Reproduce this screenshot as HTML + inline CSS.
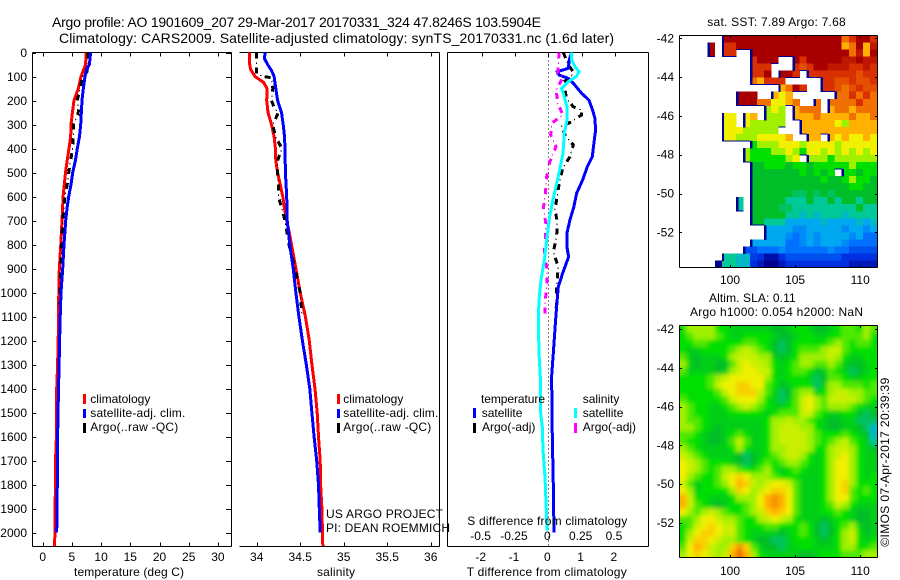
<!DOCTYPE html>
<html>
<head>
<meta charset="utf-8">
<title>Argo profile</title>
<style>
html,body{margin:0;padding:0;background:#fff;}
svg{display:block;}
text{font-family:"Liberation Sans",sans-serif;font-size:12px;fill:#000;}
.t14{font-size:14px;}
.axis{stroke:#000;stroke-width:1;shape-rendering:crispEdges;fill:none;}
.swatch{shape-rendering:crispEdges;}
</style>
</head>
<body>
<svg id="chart" width="900" height="580" viewBox="0 0 900 580" xmlns="http://www.w3.org/2000/svg">
<defs>
<clipPath id="clip-t"><rect x="32" y="52" width="199" height="494"/></clipPath>
<clipPath id="clip-s"><rect x="239" y="52" width="200" height="494"/></clipPath>
<clipPath id="clip-d"><rect x="447" y="52" width="201" height="494"/></clipPath>
<clipPath id="clip-m1"><rect x="679" y="35" width="198" height="232"/></clipPath>
<clipPath id="clip-m2"><rect x="679" y="325" width="198" height="232"/></clipPath>
<filter id="smooth" filterUnits="userSpaceOnUse" x="650" y="300" width="250" height="280"><feGaussianBlur stdDeviation="2.1"/></filter>
</defs>

<text class="t14" x="52" y="27" textLength="489">Argo profile: AO 1901609_207 29-Mar-2017 20170331_324 47.8246S 103.5904E</text>
<text class="t14" x="59" y="43" textLength="555">Climatology: CARS2009. Satellite-adjusted climatology: synTS_20170331.nc (1.6d later)</text>

<g id="g-heat1" clip-path="url(#clip-m1)"></g>
<g clip-path="url(#clip-m2)"><g id="g-heat2" filter="url(#smooth)"></g></g>
<g id="g-axes"></g>
<g id="g-lines-t" clip-path="url(#clip-t)"></g>
<g id="g-lines-s" clip-path="url(#clip-s)"></g>
<g id="g-lines-d" clip-path="url(#clip-d)"></g>

<g>
<rect class="swatch" x="83" y="394" width="3" height="10" fill="#f00"/>
<text x="90.3" y="403">climatology</text>
<rect class="swatch" x="83" y="409" width="3" height="9" fill="#00f"/>
<text x="90.3" y="417" textLength="95">satellite-adj. clim.</text>
<rect class="swatch" x="83" y="423" width="3" height="10" fill="#000"/>
<text x="90.3" y="431" textLength="88">Argo(..raw -QC)</text>
</g>
<g>
<rect class="swatch" x="337" y="394" width="3" height="10" fill="#f00"/>
<text x="343.3" y="403">climatology</text>
<rect class="swatch" x="337" y="409" width="3" height="9" fill="#00f"/>
<text x="343.3" y="417" textLength="95">satellite-adj. clim.</text>
<rect class="swatch" x="337" y="423" width="3" height="10" fill="#000"/>
<text x="343.3" y="431" textLength="88">Argo(..raw -QC)</text>
</g>
<g>
<text x="481" y="403" textLength="64">temperature</text>
<rect class="swatch" x="473" y="408" width="3" height="10" fill="#00f"/>
<text x="481.7" y="417">satellite</text>
<rect class="swatch" x="473" y="423" width="3" height="10" fill="#000"/>
<text x="482" y="431">Argo(-adj)</text>
<text x="582.7" y="403">salinity</text>
<rect class="swatch" x="574" y="408" width="3" height="10" fill="#0ff"/>
<text x="582.7" y="417">satellite</text>
<rect class="swatch" x="574" y="423" width="3" height="10" fill="#f0f"/>
<text x="582.7" y="431">Argo(-adj)</text>
</g>

<text x="326" y="518" textLength="117">US ARGO PROJECT</text>
<text x="326" y="532" textLength="124">PI: DEAN ROEMMICH</text>
<text x="467.3" y="525" textLength="160">S difference from climatology</text>
<text x="466.7" y="576" textLength="160">T difference from climatology</text>
<text x="74" y="576" textLength="110">temperature (deg C)</text>
<text x="317" y="576" textLength="38">salinity</text>
<text x="707.3" y="26" textLength="138.4">sat. SST: 7.89 Argo: 7.68</text>
<text x="709" y="302" textLength="86.7">Altim. SLA: 0.11</text>
<text x="690" y="316" textLength="173">Argo h1000: 0.054 h2000: NaN</text>
<text transform="translate(889,546.7) rotate(-90)" x="0" y="0" textLength="169">©IMOS 07-Apr-2017 20:39:39</text>
</svg>

<script>
// ---------- profile data ----------
const tClimDepth = [0,50,100,150,200,250,300,350,400,450,500,550,600,700,800,900,1000,1100,1200,1300,1400,1500,1600,1700,1800,1900,2055];
const tClimValue = [7.4,7.36,6.56,6.1,5.36,5.08,4.85,4.8,4.5,4.2,3.9,3.7,3.5,3.3,3.1,2.85,2.75,2.7,2.65,2.55,2.4,2.4,2.35,2.2,2.2,2.1,2.05];
const tSatDepth = [0,50,70,100,150,200,300,350,400,450,500,550,600,650,700,800,900,1000,1100,1200,1300,1400,1600,1800,2000];
const tSatValue = [8.2,8.0,7.5,7.25,6.95,6.73,6.5,6.3,5.93,5.6,5.13,4.85,4.45,4.16,3.94,3.65,3.42,3.14,3.0,2.9,2.8,2.7,2.55,2.5,2.4];
const tArgoDepth = [0,50,90,100,150,200,230,260,300,350,400,450,500,550,600,650,700,800,900,1000,1050];
const tArgoValue = [7.75,7.75,7.5,6.8,6.4,5.9,6.15,6.05,5.25,5.25,5.1,4.8,4.45,4.2,3.8,3.65,3.4,3.25,3.1,2.95,2.9];

const sClimDepth = [0,50,70,100,125,150,200,250,300,350,400,450,500,550,600,650,700,750,800,900,1000,1100,1200,1300,1400,1500,1600,1700,1800,1900,2055];
const sClimValue = [33.92,33.92,33.93,33.98,34.08,34.12,34.115,34.13,34.17,34.2,34.215,34.22,34.24,34.27,34.3,34.32,34.345,34.375,34.4,34.45,34.5,34.56,34.605,34.635,34.67,34.695,34.71,34.73,34.735,34.75,34.76];
const sSatDepth = [0,25,50,75,100,150,200,250,300,350,400,500,600,700,800,900,1000,1100,1200,1300,1400,1500,1600,1700,1800,1900,2000];
const sSatValue = [34.095,34.09,34.125,34.17,34.2,34.22,34.24,34.285,34.305,34.32,34.325,34.33,34.345,34.35,34.38,34.42,34.45,34.485,34.525,34.57,34.61,34.635,34.66,34.69,34.71,34.72,34.73];
const sArgoDepth = [0,50,90,100,105,150,200,230,250,300,350,400,450,500,550,600,650,700,800,900,1000,1090];
const sArgoValue = [34,34,34,34.08,34.17,34.185,34.17,34.2,34.25,34.185,34.215,34.29,34.24,34.24,34.25,34.25,34.29,34.325,34.37,34.44,34.5,34.52];

const dtSatDepth = [0,31,66,80,94,108,128,170,198,240,274,323,378,434,476,531,587,642,698,753,809,851,920,976,1059,1115,1253,1350,1600,1800,2000];
const dtSatValue = [0.7,0.63,0.6,0.27,0.33,0.6,0.75,1.0,1.22,1.33,1.4,1.42,1.37,1.32,1.17,1.03,0.85,0.77,0.65,0.56,0.56,0.61,0.43,0.3,0.25,0.22,0.15,0.1,0.12,0.15,0.17];
const dsSatDepth = [0,31,59,80,100,121,149,184,226,281,337,420,503,600,684,781,865,948,1031,1115,1253,1350,1490,1560,1657,1768,1865,1990];
const dsSatValue = [0.175,0.175,0.2,0.23,0.21,0.15,0.1,0.12,0.14,0.14,0.12,0.11,0.08,0.04,0.01,-0.012,-0.03,-0.055,-0.07,-0.075,-0.07,-0.06,-0.06,-0.045,-0.04,-0.025,-0.018,-0.008];
const dtArgoDepth = [0,52,80,98,122,156,191,226,240,260,292,306,351,385,434,483,545,594,656,705,767,830,892,976,1045,1087];
const dtArgoValue = [0.45,0.6,0.75,0.7,0.47,0.5,0.55,0.75,1.0,1.0,0.65,0.4,0.53,0.75,0.65,0.43,0.33,0.27,0.2,0.27,0.25,0.15,0.3,0.25,0.25,0.22];
const dsArgoDepth = [0,59,87,103,156,212,260,295,344,392,455,517,587,649,712,781,837,906,976,1045,1094];
const dsArgoValue = [0.08,0.075,0.07,0.11,0.06,0.07,0.11,0.025,0.018,0.058,0.012,-0.012,-0.022,-0.037,-0.018,-0.022,-0.03,-0.008,-0.012,-0.025,-0.025];

// ---------- tick labels ----------
const depthTicks = [0,100,200,300,400,500,600,700,800,900,1000,1100,1200,1300,1400,1500,1600,1700,1800,1900,2000];
const tempTicks = [0,5,10,15,20,25,30];
const salTicks = [34,34.5,35,35.5,36];
const salTickLabels = ['34','34.5','35','35.5','36'];
const dtTicks = [-2,-1,0,1,2];
const dsTicks = [-0.5,-0.25,0,0.25,0.5];
const lonTicks = [100,105,110];
const latTicks = [-42,-44,-46,-48,-50,-52];

// ---------- heat map data (colour level per cell; _ = no data) ----------
const _ = null;
const sstRows = [
[_,_,_,_,_,_,12,12,12,12,12,12,12,12,12,12,12,12,12,12,12,12,12,10,11,12,12,11],
[_,_,_,_,12,_,11,11,12,12,12,12,12,12,12,12,12,12,12,12,12,12,12,9,10,12,9,11.5],
[_,_,_,_,12,_,11,11,_,_,12,12,12,12,12,12,12,12,12,12,12,12,12,12,10,11.5,9,12],
[_,_,_,_,_,_,_,_,_,_,11,12,12,12,_,_,12,11,12,12,12,12,12,11.5,11.5,12,11.5,11.5],
[_,_,_,_,_,_,_,_,_,_,11,11,11,_,_,_,11,10.5,11,12,12,11.5,11.5,11.5,11,11,11.5,11],
[_,_,_,_,_,_,_,_,_,_,11,11,12,_,12,12,11,_,11,11,11,11,11,11,11,10.5,11,11],
[_,_,_,_,_,_,_,_,_,_,10,9,11,11,11,_,_,_,_,_,11,11,10.5,10.5,11,10.5,10.5,11],
[_,_,_,_,_,_,_,_,_,_,_,_,_,_,9,10,12,11,_,_,11,11,10.5,10,10.5,11,10.5,10.5],
[_,_,_,_,_,_,_,_,12,12,12,_,_,9,8,9,_,_,_,_,_,_,10,10,11,10,11,10],
[_,_,_,_,_,_,_,_,12,12,12,10,10,8,8,9,10,_,_,10,_,10,10,10,10,11,10,10],
[_,_,_,_,_,_,_,_,_,_,_,_,7,8,7,_,9,10,10,10,_,9,10,10,9,10,10,10],
[_,_,_,_,_,_,8,8,_,8,9,_,7,7,7,_,9,9,9,10,9,9,9,9,10,9,9,10],
[_,_,_,_,_,_,8,8,_,8,7,7,7,7,7,_,_,9,9,9,9,9,8,7,9,9,9,9],
[_,_,_,_,_,_,8,8,8,7,7,7,7,7,_,_,_,9,9,9,9,9,9,9,9,9,9,9],
[_,_,_,_,_,_,8,8,7,7,7,8,8,8,8,9,_,_,9,9,_,9,8,9,8,8,9,8],
[_,_,_,_,_,_,_,_,_,_,6,7,7,7,8,8,8,7,8,8,8,8,7,8,8,8,8,8],
[_,_,_,_,_,_,_,_,_,7,6,6,6,7,7,8,7,6,8,8,7,8,7,8,7,8,7,8],
[_,_,_,_,_,_,_,_,_,7,6,6,6,6,6,7,8,_,7,7,7,6,7,7,7,7,7,7],
[_,_,_,_,_,_,_,_,_,_,5,5,6,6,6,5,6,6,5,6,6,6,6,6,7,6,6,6],
[_,_,_,_,_,_,_,_,_,_,5,5,5,5,5,5,5,6,5,6,5,6,_,6,6,5,6,6],
[_,_,_,_,_,_,_,_,_,_,5,5,5,5,5,5,5,5,5,5,6,5,5,6,7,6,6,5],
[_,_,_,_,_,_,_,_,_,_,5,5,5,5,5,5,5,5,5,5,5,5,5,5,6,6,5,5],
[_,_,_,_,_,_,_,_,_,_,5,5,5,5,5,5,4.5,4.5,5,4.5,5,4.5,5,5,5,5,5,5],
[_,_,_,_,_,_,_,_,4,_,5,5,5,5,5,4,4,4,5,4,4,5,4,5,5,4,5,5],
[_,_,_,_,_,_,_,_,4,_,5,5,5,5,4.5,4.5,4,4,4,4,4,4,4,4,4,5,4,4],
[_,_,_,_,_,_,_,_,_,_,5,5,5,5,5,4,4,3.5,4,3.5,4,4,4,3.5,4,4,4,4],
[_,_,_,_,_,_,_,_,_,_,5,5,4,4,4,3,3,3,3,3,3.5,3,3,3,3,3.5,3,3.5],
[_,_,_,_,_,_,_,_,_,_,_,_,3,3,3,3,2.5,2.5,3,3,3,3,3,2.5,3,3,2.5,3],
[_,_,_,_,_,_,_,_,_,_,_,_,3,3,3,2.5,2,2.5,3,2.5,3,3,3,3,2.5,3,2,2],
[_,_,_,_,_,_,_,_,_,_,3,3,3,3,3,2,2,2.5,3,2.5,3,3,3,2.5,2,2,2,2],
[_,_,_,_,_,_,_,_,_,1.5,1.5,2,2,2,2.5,2,2,2,2,2,2,2.5,2,2,1.5,1.5,1.5,1.5],
[_,_,_,_,_,_,4,4,3.5,3.5,1.2,1,0.3,0.3,1,1.5,1.5,1.5,1.5,1.5,1.5,1.5,1.5,1,1,1,1,1],
[_,_,_,_,_,0,4,4,3.5,3.5,1,0.5,0,0,0.5,1,1,1,1,1,1,1,1,1,0.5,0.5,0.5,0.5]
];
const slaRows = [
[6,7,7,7,7,6,6,5.5,5.5,5.5,5.5,5.5,5.5,5,5,5.5,6,6,5.5,5,5,5.5,6,6.5,6.5,6,7,6.5],
[6,6.5,7,7,7,6.5,6,5.5,5.5,6,6,6,6,5.5,5,5,5.5,6,6,5.5,5.5,6,6,6.5,6.5,6.5,7,6],
[6,6,6.5,6.5,6,6,6,6,6,6.5,6.5,6,6,5,4.5,5,6,6,6,6,6,6.5,7,6.5,6,6.5,6.5,6],
[6,5.5,5.5,6,6,6,6,6.5,7,7.5,7,6.5,6,5,4.5,5,6,6.5,6.5,6.5,7,7.5,7.5,6.5,6,6,6,6],
[6.5,5.5,5,5.5,5.5,5.5,6,7,7.5,7.5,7.5,7,7,5.5,5,5.5,6,7,7,7,7,7.5,7,6,5.5,5.5,6,6],
[7,5.5,5,5.5,5.5,5,5,6.5,7.5,8,7.5,7.5,7,6,5.5,6,6.5,7,7,6.5,6.5,7,6.5,5.5,5,5,5.5,6],
[6.5,5.5,5.5,5.5,5.5,5,5.5,7,7.5,8,8,7.5,7.5,6,5.5,6,6.5,6.5,6,5,5.5,6.5,6,5.5,4.5,5,5.5,6],
[6,6,6,6,6.5,7,7.5,8,8,8,8,8,7,6,5.5,6,6,6,5.5,4.5,5,6.5,6.5,6,5.5,5.5,6,6],
[6,6,6,6,6.5,7.5,8,8,8.5,8.5,8,8,6.5,6,5,5.5,6,6,6,4.5,5.5,7,7,6.5,6.5,6.5,6,6.5],
[6,6,6,6,6,6.5,7.5,8,8.5,8.5,8.5,7.5,6.5,5.5,4.5,5,6.5,7,7,5.5,6,7,7.5,7.5,7,7,6.5,6.5],
[6.5,6,6,6,6,6,6.5,7.5,8,8,8,7,6,5.5,4.5,5.5,6.5,7.5,8,7,6.5,7.5,7.5,7.5,7.5,7,6.5,6],
[7,6.5,6,6,5.5,5.5,6,6.5,7,7.5,7,6.5,6,5.5,5.5,6,6.5,7.5,8,7,6.5,7,7,7,6.5,6,5.5,5.5],
[7,6.5,6,6,5.5,5.5,5.5,6,6,6,6,6,5.5,6,6.5,6.5,6.5,7.5,7.5,6.5,6,5.5,5.5,6,6,5,4.5,5],
[7,6.5,6.5,6,5.5,5.5,5.5,5.5,5.5,5.5,5.5,5.5,6,7,7,7.5,7,7,6.5,6,5.5,5,5,5.5,5.5,4.5,4.5,4.5],
[7,7,6.5,6,5.5,5,5.5,5.5,5.5,5.5,5.5,5.5,6,7,7.5,7.5,7.5,7,7,6,5.5,5,5,5.5,5.5,5,4.5,3.5],
[6.5,6.5,6,5.5,5,5,5.5,6,6.5,6,5.5,5.5,6,7,7.5,7.5,7.5,7.5,7,6.5,6,6,6,6.5,6,5.5,5,3.5],
[6.5,6,6,5.5,5,5,5.5,6.5,7.5,6.5,5.5,5.5,6,7,7.5,7.5,7.5,7.5,7,6.5,6,6.5,7,7.5,6.5,6,5.5,4],
[7,6.5,6,5.5,5.5,5.5,5.5,6,7,6,5.5,5.5,6,7,7,7.5,7.5,7.5,7,6,6,7,7.5,7.5,7,6,5.5,5],
[7.5,7,6.5,6,5.5,5.5,5.5,5.5,5,4.5,5,5.5,6,6.5,7,7.5,7.5,7,6,5.5,6,7,7.5,8,7,6,5.5,5.5],
[8,7.5,7,6.5,6,6,6,5.5,5,4.5,5,6,6.5,6,6.5,7,7,6.5,6,5.5,6,7,8,8,7,6,5.5,5.5],
[8,7.5,7,6.5,6,6.5,7,7,6.5,6,6,6.5,7,6,5.5,6,6.5,6,5.5,5.5,6,7,8,8,7,6,5.5,5.5],
[8,7,6.5,6,6,6.5,7.5,8,8.5,8,7,7,7,6.5,6,6,6,5.5,5.5,5.5,6,7,8,8,7,6,5.5,6],
[7.5,6.5,5.5,6,6,6.5,7,8,9,8.5,7.5,7,7.5,8,8,7.5,6.5,5.5,5.5,5.5,6,7,8,8.5,7,6,6,6],
[8,7,5.5,6,6,6,6,7,8.5,8,7,7.5,8,8.5,8.5,8,6.5,5.5,5.5,5.5,6,7,8,8.5,6.5,6,6.5,6],
[9,7.5,6,6,5.5,5.5,5.5,6,7,7,7,8,9,9.5,9,8,6.5,5.5,5.5,5.5,6,7,8,8,6.5,6,6,6],
[9,7.5,6.5,6,5.5,5,5.5,6,6,6.5,7,8,9,9.5,9,8,6.5,5.5,5.5,5.5,6,6.5,7.5,7,6,5.5,5.5,5.5],
[8,7,6.5,7,7.5,7,6.5,6,6,6.5,7,7.5,8.5,9,8.5,8,6.5,5.5,5.5,5.5,6,6,6.5,6,5.5,5,5,5.5],
[6.5,6.5,7,8,8,7.5,7,7,6.5,6,6,7,7.5,8,7.5,7,6,5.5,5.5,5.5,5,5.5,6,6,5.5,5,5,5.5],
[6,6.5,7.5,8,8.5,8,7.5,7.5,6.5,6,6,6,6.5,6.5,6,6,6,6.5,6,5,4.5,5,6,6.5,7,5.5,5,5.5],
[6,7,8,8.5,8.5,8,7.5,7.5,6.5,6,5.5,5.5,5.5,5.5,5,5.5,6,6.5,6,5,4.5,5,6,7,7.5,6,5,5.5],
[6,7.5,8.5,8.5,8,7.5,7,7,6.5,6,5.5,5,5,4.5,4.5,5.5,6,6,6,5.5,5,5.5,6,7,7.5,6,5.5,6],
[6.5,8,9,8.5,7.5,7,7,8.5,9.5,8.5,6.5,5.5,5,5,4.5,5.5,5.5,6,6,5.5,5.5,5.5,6,7,7,6,6,6.5],
[7,8,8.5,8,7.5,7,7.5,9,10,9,7,6,5.5,5.5,5.5,5.5,5.5,5,5,5.5,6,6,6,6.5,6.5,6.5,7,7]
];
const colorStops = [[0,0,144],[0,48,224],[0,112,255],[0,168,240],[0,200,150],[0,190,40],[0,224,0],[160,240,0],[240,240,0],[255,176,0],[240,112,0],[216,48,0],[168,0,0]];

// ---------- scales ----------
const yDepth = d => 52.5 + 0.2401 * d;
const xTemp = v => 42.7 + 5.84 * v;
const xSal = v => 256.7 + 87 * (v - 34);
const xDT = v => 548.3 + 33.3 * v;
const xDS = v => 548.3 + 133.3 * v;
const xLon1 = l => 730 + 13.02 * (l - 100);
const yLat1 = l => 38.3 + 19.4 * (-42 - l);
const yLat2 = l => 329 + 19.4 * (-42 - l);

const NS = 'http://www.w3.org/2000/svg';
function mk(parent, tag, attrs, txt) {
  const e = document.createElementNS(NS, tag);
  for (const k in attrs) e.setAttribute(k, attrs[k]);
  if (txt !== undefined) e.textContent = txt;
  parent.appendChild(e);
  return e;
}
const axes = document.getElementById('g-axes');

function seg(x1, y1, x2, y2, name) {
  const el = mk(axes, 'line', {x1: x1, y1: y1, x2: x2, y2: y2, class: 'axis'});
  
  
}
function label(x, y, s, anchor, name) {
  const el = mk(axes, 'text', {x: x, y: y, 'text-anchor': anchor}, s);
  
  
}
function profile(group, depths, values, xf, color, dashed, name) {
  const pts = depths.map((d, i) => xf(values[i]).toFixed(1) + ',' + yDepth(d).toFixed(1)).join(' ');
  const a = {points: pts, fill: 'none', stroke: color, 'stroke-width': 3, 'shape-rendering': 'crispEdges'};
  if (dashed) a['stroke-dasharray'] = '6 9';
  const el = mk(group, 'polyline', a);
  
  
  if (dashed) {
    const dots = mk(group, 'polyline', {points: pts, fill: 'none', stroke: color, 'stroke-width': 1, 'stroke-dasharray': '1.5 13.5', 'stroke-dashoffset': -10, 'shape-rendering': 'crispEdges'});
    
    
  }
}

// ---------- panel frames ----------
const T = 52.5, B = 546.5;
seg(32.5, T, 231.5, T, 'temperature-panel-top');
seg(32.5, B, 231.5, B, 'temperature-panel-bottom');
seg(32.5, T, 32.5, B, 'temperature-panel-left');
seg(231.5, T, 231.5, B, 'temperature-panel-right');
seg(239.5, T, 439.5, T, 'salinity-panel-top');
seg(239.5, B, 439.5, B, 'salinity-panel-bottom');
seg(439.5, T, 439.5, B, 'salinity-panel-right');
seg(447.5, T, 648.5, T, 'difference-panel-top');
seg(447.5, B, 648.5, B, 'difference-panel-bottom');
seg(447.5, T, 447.5, B, 'difference-panel-left');
seg(648.5, T, 648.5, B, 'difference-panel-right');

depthTicks.forEach(d => {
  const y = Math.round(yDepth(d)) + 0.5;
  seg(32.5, y, 36, y, 'depth-tick-left');
  seg(226, y, 231.5, y, 'depth-tick-right');
  label(27, yDepth(d) + 4.5, String(d), 'end', 'depth-tick-label');
});
tempTicks.forEach(v => {
  const x = Math.round(xTemp(v)) + 0.5;
  seg(x, T, x, 56.5, 'temperature-tick-top');
  seg(x, B - 4, x, B, 'temperature-tick-bottom');
  label(xTemp(v), 561, String(v), 'middle', 'temperature-tick-label');
});
salTicks.forEach((v, i) => {
  const x = Math.round(xSal(v)) + 0.5;
  seg(x, T, x, 56.5, 'salinity-tick-top');
  seg(x, B - 4, x, B, 'salinity-tick-bottom');
  label(xSal(v), 561, salTickLabels[i], 'middle', 'salinity-tick-label');
});
dtTicks.forEach(v => {
  const x = Math.round(xDT(v)) + 0.5;
  seg(x, T, x, 56.5, 'difference-tick-top');
  label(xDT(v) - 1, 561, String(v), 'middle', 'temperature-difference-tick-label');
});
dsTicks.forEach(v => {
  label(xDS(v) - 1, 540, String(v), 'middle', 'salinity-difference-tick-label');
});

// ---------- zero line in difference panel ----------
const zeroLine = mk(document.getElementById('g-lines-d'), 'line', {x1: xDT(0), y1: T, x2: xDT(0), y2: B, stroke: '#000', 'stroke-width': 1, 'stroke-dasharray': '1 3', 'shape-rendering': 'crispEdges'});



// ---------- series ----------
const gT = document.getElementById('g-lines-t');
const gS = document.getElementById('g-lines-s');
const gD = document.getElementById('g-lines-d');
profile(gT, tClimDepth, tClimValue, xTemp, '#f00', false, 'temperature-climatology-line');
profile(gT, tArgoDepth, tArgoValue, xTemp, '#000', true, 'temperature-argo-line');
profile(gT, tSatDepth, tSatValue, xTemp, '#00f', false, 'temperature-satellite-line');
profile(gS, sClimDepth, sClimValue, xSal, '#f00', false, 'salinity-climatology-line');
profile(gS, sArgoDepth, sArgoValue, xSal, '#000', true, 'salinity-argo-line');
profile(gS, sSatDepth, sSatValue, xSal, '#00f', false, 'salinity-satellite-line');
profile(gD, dtArgoDepth, dtArgoValue, xDT, '#000', true, 't-difference-argo-line');
profile(gD, dtSatDepth, dtSatValue, xDT, '#00f', false, 't-difference-satellite-line');
profile(gD, dsArgoDepth, dsArgoValue, xDS, '#f0f', true, 's-difference-argo-line');
profile(gD, dsSatDepth, dsSatValue, xDS, '#0ff', false, 's-difference-satellite-line');

// ---------- heat maps ----------
function colorOf(v) {
  const i = Math.max(0, Math.min(colorStops.length - 1, v));
  const a = Math.floor(i), b = Math.min(colorStops.length - 1, a + 1), f = i - a;
  const c = [0, 1, 2].map(k => Math.round(colorStops[a][k] + (colorStops[b][k] - colorStops[a][k]) * f));
  return 'rgb(' + c.join(',') + ')';
}
function heat(groupId, rows, top, expand) {
  const g = document.getElementById(groupId);
  const L = 679.5, W = 197.5, H = 232;
  const cw = W / rows[0].length, ch = H / rows.length;
  rows.forEach((row, r) => row.forEach((v, c) => {
    if (v === null) return;
    let x = L + c * cw, y = top + r * ch, w = cw + 0.4, h = ch + 0.4;
    if (expand) {
      if (c === 0) { x -= 10; w += 10; }
      if (c === row.length - 1) { w += 10; }
      if (r === 0) { y -= 10; h += 10; }
      if (r === rows.length - 1) { h += 10; }
    }
    const cell = mk(g, 'rect', {x: x.toFixed(2), y: y.toFixed(2), width: w.toFixed(2), height: h.toFixed(2), fill: colorOf(v), 'shape-rendering': 'crispEdges'});
    
    
  }));
  if (expand) return;
  rows.forEach((row, r) => row.forEach((v, c) => {
    if (v === null) return;
    const x = L + c * cw, y = top + r * ch;
    if (c > 0 && row[c - 1] === null) {
      const edge = mk(g, 'rect', {x: x.toFixed(2), y: y.toFixed(2), width: 2.4, height: (ch + 0.4).toFixed(2), fill: '#000090', 'shape-rendering': 'crispEdges'});
      
      
    }
    if (r < rows.length - 1 && rows[r + 1][c] === null) {
      const edge = mk(g, 'rect', {x: x.toFixed(2), y: (y + ch - 0.6).toFixed(2), width: (cw + 0.4).toFixed(2), height: 1, fill: '#000090', 'shape-rendering': 'crispEdges'});
      
      
    }
  }));
}
heat('g-heat1', sstRows, 35.5, false);
heat('g-heat2', slaRows, 325.5, true);

// ---------- map frames & ticks ----------
function mapFrame(top, yLat, labelY, prefix) {
  const bottom = top + 232;
  seg(679.5, top + 0.5, 877.5, top + 0.5, prefix + '-top-edge');
  seg(679.5, bottom + 0.5, 877.5, bottom + 0.5, prefix + '-bottom-edge');
  seg(679.5, top + 0.5, 679.5, bottom + 0.5, prefix + '-left-edge');
  seg(877.5, top + 0.5, 877.5, bottom + 0.5, prefix + '-right-edge');
  lonTicks.forEach(l => {
    const x = Math.round(xLon1(l)) + 0.5;
    seg(x, top + 0.5, x, top + 3, prefix + '-lon-tick-top');
    seg(x, bottom - 2, x, bottom + 0.5, prefix + '-lon-tick-bottom');
    label(xLon1(l), labelY, String(l), 'middle', prefix + '-lon-label');
  });
  latTicks.forEach(l => {
    const y = Math.round(yLat(l)) + 0.5;
    seg(679.5, y, 682, y, prefix + '-lat-tick-left');
    seg(875, y, 877.5, y, prefix + '-lat-tick-right');
    label(674, yLat(l) + 4, String(l), 'end', prefix + '-lat-label');
  });
}
mapFrame(35, yLat1, 284, 'sst-map');
mapFrame(325, yLat2, 575, 'sla-map');
</script>
</body>
</html>
